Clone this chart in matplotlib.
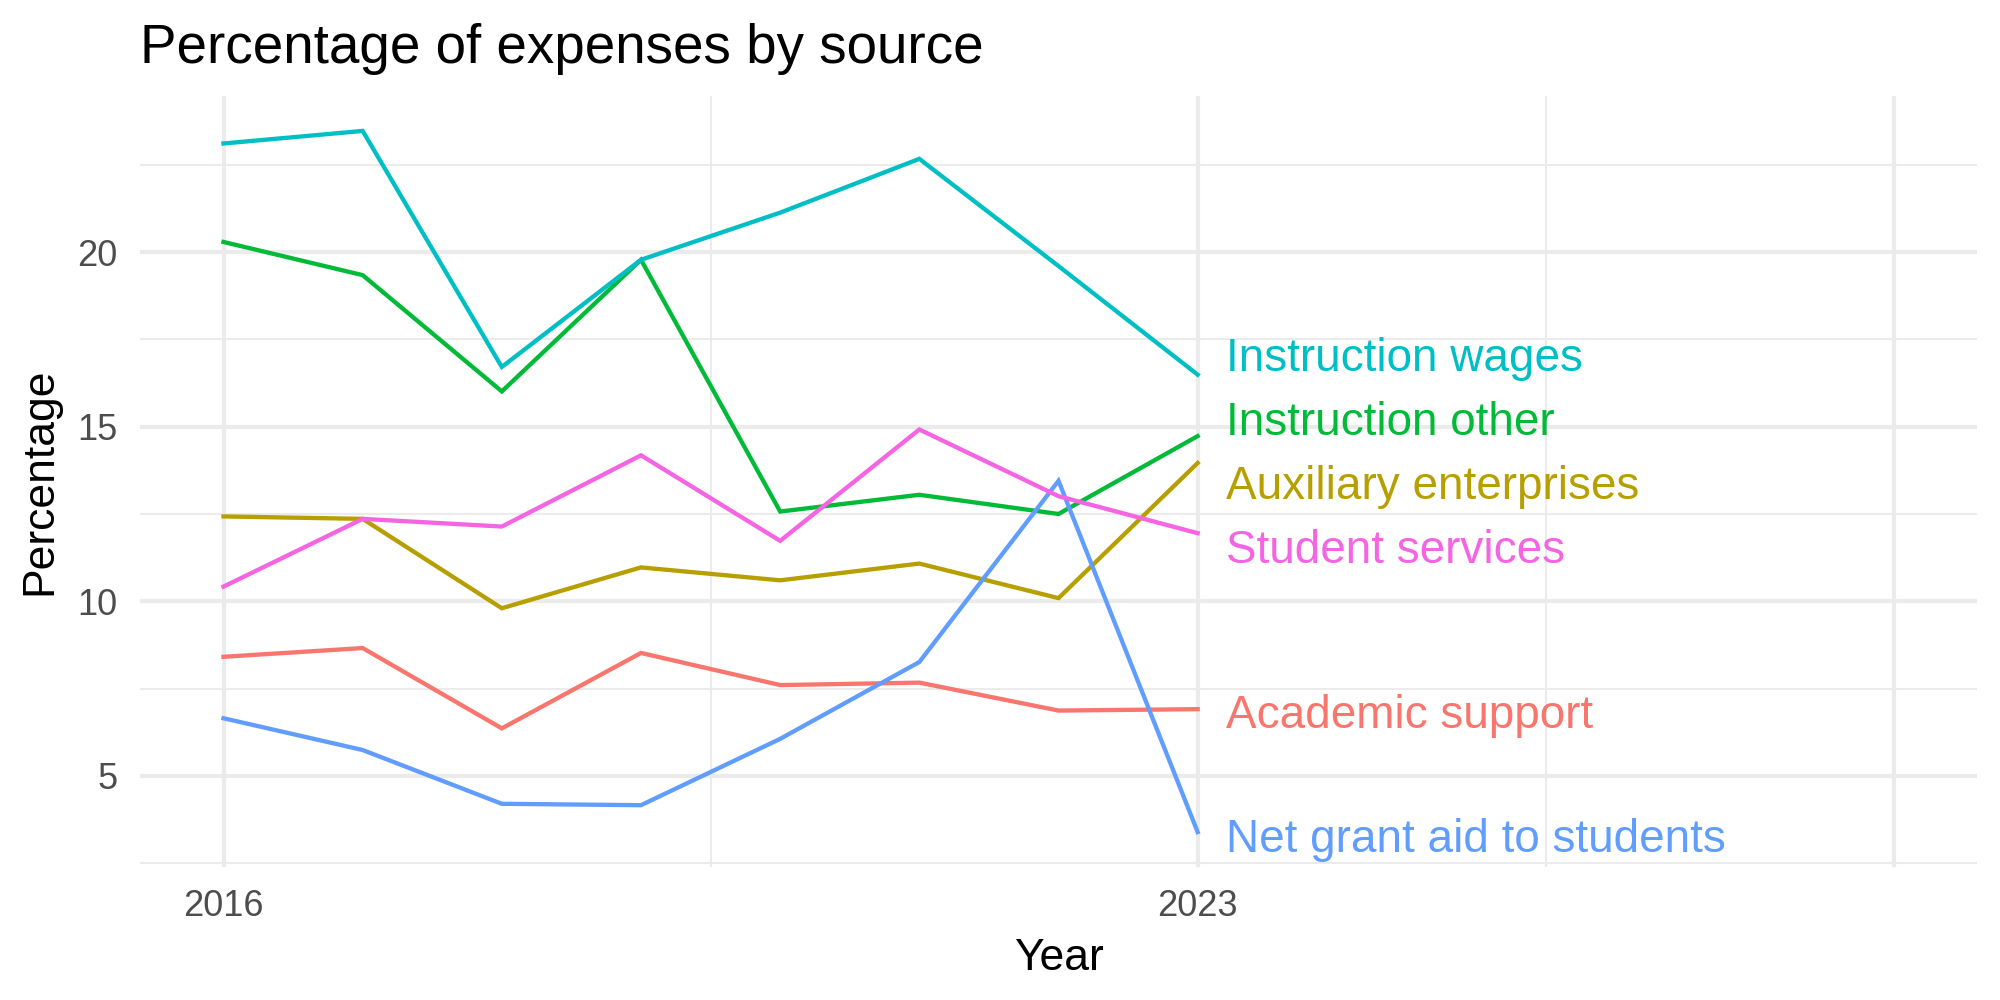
import matplotlib
matplotlib.use("Agg")
import matplotlib.pyplot as plt

plt.rcParams['font.family'] = ['Liberation Sans', 'DejaVu Sans']

years = [2016, 2017, 2018, 2019, 2020, 2021, 2022, 2023]

series_names = ["Academic support", "Auxiliary enterprises", "Instruction other",
                "Instruction wages", "Net grant aid to students", "Student services"]
colors = ["#F8766D", "#B79F00", "#00BA38", "#00BFC4", "#619CFF", "#F564E3"]

academic_support = [8.41, 8.66, 6.36, 8.52, 7.60, 7.67, 6.87, 6.91]
auxiliary_enterprises = [12.43, 12.36, 9.80, 10.97, 10.60, 11.08, 10.09, 13.96]
instruction_other = [20.29, 19.34, 16.01, 19.78, 12.57, 13.05, 12.50, 14.73]
instruction_wages = [23.11, 23.47, 16.71, 19.78, 21.13, 22.67, 19.60, 16.49]
net_grant_aid = [6.65, 5.74, 4.20, 4.16, 6.06, 8.26, 13.45, 3.39]
student_services = [10.42, 12.36, 12.14, 14.18, 11.73, 14.92, 13.01, 11.95]

values = [academic_support, auxiliary_enterprises, instruction_other,
          instruction_wages, net_grant_aid, student_services]

# label positions after repelling (y in data units)
label_y = [6.87, 13.42, 15.25, 17.07, 3.32, 11.59]
label_x = 2023.2

x_breaks = [2016, 2023, 2028]
x_labels = ["2016", "2023", ""]
x_minor = [2019.5, 2025.5]
y_breaks = [5, 10, 15, 20]
y_minor = [2.5, 7.5, 12.5, 17.5, 22.5]

fig = plt.figure(figsize=(20, 10), dpi=100)
ax = fig.add_axes([0.07, 0.133, 0.9185, 0.771])

grid_col = "#EBEBEB"
for name, vals, col in zip(series_names, values, colors):
    ax.plot(years, vals, color=col, linewidth=3.1, solid_joinstyle='miter', zorder=3)

for name, ly, col in zip(series_names, label_y, colors):
    ax.text(label_x, ly, name, color=col, fontsize=33, ha='left', va='center_baseline', zorder=4)

ax.set_xlim(2015.4, 2028.6)
ax.set_ylim(2.39, 24.47)
ax.set_xticks(x_breaks)
ax.set_xticklabels(x_labels)
ax.set_xticks(x_minor, minor=True)
ax.set_yticks(y_breaks)
ax.set_yticks(y_minor, minor=True)

ax.grid(True, which='major', color=grid_col, linewidth=3.0, zorder=0)
ax.grid(True, which='minor', color=grid_col, linewidth=1.5, zorder=0)
ax.set_axisbelow(True)
for s in ax.spines.values():
    s.set_visible(False)
ax.tick_params(which='both', length=0)
ax.tick_params(axis='x', labelsize=26, labelcolor='#4D4D4D', pad=16)
ax.tick_params(axis='y', labelsize=26, labelcolor='#4D4D4D', pad=16)

ax.set_xlabel("Year", fontsize=32, labelpad=10)
ax.set_ylabel("Percentage", fontsize=32, labelpad=12)
ax.set_title("Percentage of expenses by source", fontsize=39.4, loc='left', pad=24)

fig.savefig("out.png", dpi=100, facecolor='white')
